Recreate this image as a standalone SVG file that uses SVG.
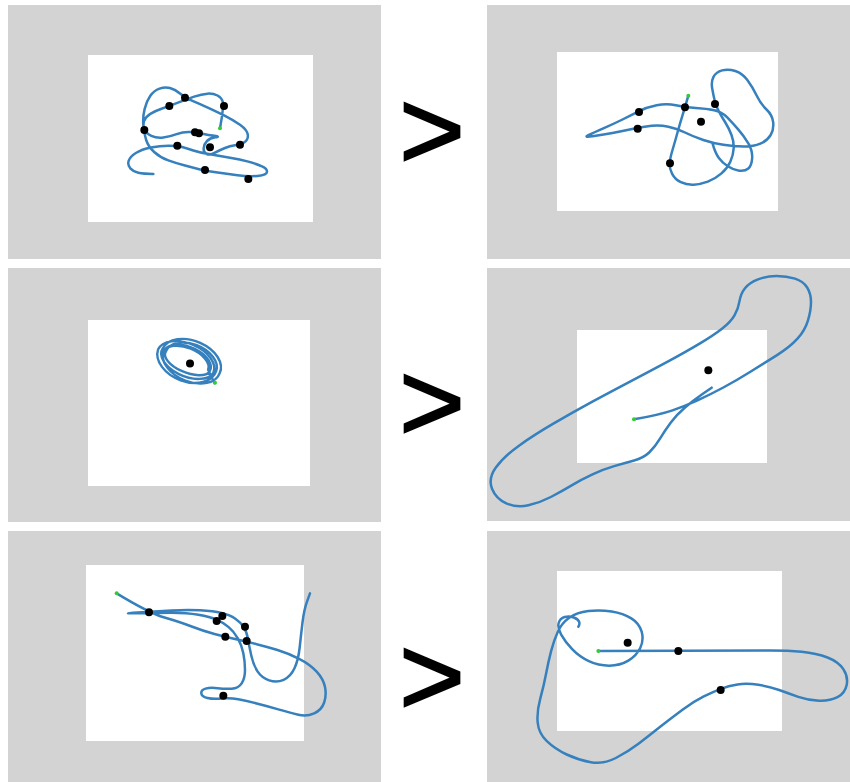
<svg xmlns="http://www.w3.org/2000/svg" width="850" height="782" viewBox="0 0 850 782">
<style>
.bg{fill:#d3d3d3}
.pl{fill:#ffffff}
.tr{fill:none;stroke:#3580bd;stroke-linecap:round;stroke-linejoin:round}
.s3{stroke-width:7.5}
.s1{stroke-width:2.4}
.dot{fill:#000}
.st{fill:#33cc33}
.gt{font-family:"Liberation Sans",Arial,sans-serif;font-size:113px;fill:#000;stroke:#000;stroke-width:1.8}
</style>
<rect width="850" height="782" fill="#ffffff"/>

<g id="panel1">
<rect class="bg" x="8" y="5" width="373" height="254"/>
<rect class="pl" x="88" y="55" width="225" height="167"/>
<g transform="scale(0.33333)">
<path class="tr s3" d="M660,385 Q672,318 668.5,305.5 Q665,293 652.5,286.5 Q640,280 622.5,281 Q605,282 582.5,290 Q560,298 534,308 Q508,318 486.5,325.5 Q465,333 451,341.5 Q437,350 432.5,362.5 Q428,375 433,387.5 Q438,400 454,407.5 Q470,415 490,412.5 Q510,410 530,402.5 Q550,395 570,396 Q590,397 607.5,401 Q625,405 643.5,407.5 Q662,410 646,412 Q630,414 621,423 Q612,432 611,445 Q610,458 620,462 Q630,466 645,458 Q660,450 675,444 Q690,438 705,436 Q720,434 732.5,427 Q745,420 743.5,405 Q742,390 721,375 Q700,360 675,347.5 Q650,335 625,323.5 Q600,312 577.5,302.5 Q555,293 540,280.5 Q525,268 510,264 Q495,260 478.5,266 Q462,272 451,287.5 Q440,303 434,326.5 Q428,350 430,375 Q432,400 438.5,420 Q445,440 462.5,456 Q480,472 505,481 Q530,490 555,496.5 Q580,503 597.5,507.5 Q615,512 647.5,517 Q680,522 712.5,526 Q745,530 772.5,528 Q800,526 801,516 Q802,506 786,499 Q770,492 745,485 Q720,478 690,473 Q660,468 630,463 Q600,458 580,451.5 Q560,445 546,441 Q532,437 506,437 Q480,437 452.5,442.5 Q425,448 407.5,459 Q390,470 386,482.5 Q382,495 391,505 Q400,515 415,518.5 Q430,522 460,522"/>
<circle class="dot" cx="555" cy="293" r="12"/>
<circle class="dot" cx="508" cy="318" r="12"/>
<circle class="dot" cx="672" cy="318" r="12"/>
<circle class="dot" cx="433" cy="390" r="12"/>
<circle class="dot" cx="585" cy="397" r="12"/>
<circle class="dot" cx="597" cy="400" r="12"/>
<circle class="dot" cx="532" cy="437" r="12"/>
<circle class="dot" cx="630" cy="442" r="12"/>
<circle class="dot" cx="720" cy="434" r="12"/>
<circle class="dot" cx="615" cy="510" r="12"/>
<circle class="dot" cx="745" cy="537" r="12"/>
<circle class="st" cx="660" cy="385" r="6"/>
</g>
</g>

<g id="panel2">
<rect class="bg" x="487" y="5" width="363" height="254"/>
<rect class="pl" x="557" y="52" width="221" height="159"/>
<g transform="translate(480,0) scale(0.33333)">
<path class="tr s3" d="M625,287 Q615,322 607.5,346 Q600,370 592.5,397.5 Q585,425 577.5,450 Q570,475 569,490 Q568,505 576.5,521.5 Q585,538 602.5,546.5 Q620,555 641,554 Q662,553 683.5,545 Q705,537 723.5,521 Q742,505 751,485 Q760,465 761,445 Q762,425 754.5,405 Q747,385 736,367.5 Q725,350 716.5,334 Q708,318 704,301.5 Q700,285 696.5,265 Q693,245 700.5,230.5 Q708,216 726.5,211 Q745,206 766,213 Q787,220 802,240 Q817,260 829.5,286 Q842,312 859.5,328.5 Q877,345 879.5,366.5 Q882,388 872,405 Q862,422 841,431 Q820,440 790,439.5 Q760,439 730,434.5 Q700,430 670,420 Q640,410 615,397.5 Q590,385 565,380 Q540,375 515,377.5 Q490,380 460,386.5 Q430,393 397.5,399 Q365,405 337.5,409 Q310,413 325,405.5 Q340,398 370,385 Q400,372 427.5,358.5 Q455,345 477.5,333.5 Q500,322 530,316 Q560,310 587.5,316 Q615,322 647.5,324 Q680,326 702.5,330.5 Q725,335 741,351.5 Q757,368 774.5,388 Q792,408 805,430 Q818,452 816.5,474.5 Q815,497 805,505.5 Q795,514 777.5,512 Q760,510 743.5,499 Q727,488 716,473 Q705,458 697,428"/>
<circle class="dot" cx="477" cy="336" r="12"/>
<circle class="dot" cx="473" cy="386" r="12"/>
<circle class="dot" cx="615" cy="322" r="12"/>
<circle class="dot" cx="705" cy="312" r="12"/>
<circle class="dot" cx="663" cy="365" r="12"/>
<circle class="dot" cx="570" cy="490" r="12"/>
<circle class="st" cx="625" cy="287" r="6"/>
</g>
</g>

<g id="panel3">
<rect class="bg" x="8" y="268" width="373" height="254"/>
<rect class="pl" x="88" y="320" width="222" height="166"/>
<g transform="translate(189,361) rotate(22)">
<path class="tr s1" d="M32,11 L21,1 A24 13 0 0 0 -27,1 A30 19 0 0 0 33,0 A31 20 0 0 0 -29,-2 A28 16 0 0 0 27,2 A30 18 0 0 0 -33,1 A31 21 0 0 0 29,-1 A27 17 0 0 0 -25,0 A24 11 0 0 0 23,2 A25 14 0 0 0 -27,-1"/>
</g>
<circle class="dot" cx="190" cy="363.5" r="4"/>
<circle class="st" cx="215" cy="382.7" r="2"/>
</g>

<g id="panel4">
<rect class="bg" x="487" y="268" width="363" height="253"/>
<rect class="pl" x="577" y="330" width="190" height="133"/>
<g transform="translate(480,262) scale(0.33333)">
<path class="tr s3" d="M462,472 Q540,458 577.5,445 Q615,432 652.5,415 Q690,398 730,376.5 Q770,355 810,330 Q850,305 890,280 Q930,255 952.5,230 Q975,205 984,175 Q993,145 993,120 Q993,95 981.5,76.5 Q970,58 945,50 Q920,42 890,42 Q860,42 834,52 Q808,62 795,78.5 Q782,95 778.5,117.5 Q775,140 763.5,160 Q752,180 726,200 Q700,220 660,244 Q620,268 570,295 Q520,322 460,353.5 Q400,385 340,417.5 Q280,450 220,485 Q160,520 115,552.5 Q70,585 47,617.5 Q24,650 36,680 Q48,710 79,724 Q110,738 145,730 Q180,722 212.5,705 Q245,688 275,670 Q305,652 337.5,637 Q370,622 402.5,612.5 Q435,603 462.5,595.5 Q490,588 507.5,571.5 Q525,555 540,530 Q555,505 572.5,481.5 Q590,458 615,436.5 Q640,415 667.5,396 L695,377"/>
<circle class="dot" cx="685" cy="325" r="12"/>
<circle class="st" cx="462" cy="472" r="6"/>
</g>
</g>

<g id="panel5">
<rect class="bg" x="8" y="531" width="373" height="251"/>
<rect class="pl" x="86" y="565" width="218" height="176"/>
<g transform="translate(0,525) scale(0.33333)">
<path class="tr s3" d="M350,205 Q447,264 493.5,277.5 Q540,291 575,304.5 Q610,318 643.5,327 Q677,336 708.5,343 Q740,350 770,357.5 Q800,365 832.5,375 Q865,385 897.5,401.5 Q930,418 950,440 Q970,462 975,486 Q980,510 972.5,532.5 Q965,555 942.5,565 Q920,575 895,569 Q870,563 835,553 Q800,543 770,535.5 Q740,528 715,523 Q690,518 665,520.5 Q640,523 622.5,519 Q605,515 604,505 Q603,495 616.5,491 Q630,487 652.5,489.5 Q675,492 695,491 Q715,490 725,475 Q735,460 735,435 Q735,410 730,385 Q725,360 713.5,340 Q702,320 686,306.5 Q670,293 650,284 Q630,275 595,269 Q560,263 515,263 Q470,263 412.5,264.5 Q355,266 412.5,262.5 Q470,259 515,256.5 Q560,254 600,256 Q640,258 665,264 Q690,270 706,281 Q722,292 731,306 Q740,320 744,342.5 Q748,365 754,392.5 Q760,420 772.5,439 Q785,458 807.5,466 Q830,474 851,464.5 Q872,455 883.5,430 Q895,405 899,367.5 Q903,330 907.5,292.5 Q912,255 921,230 L930,205"/>
<circle class="dot" cx="447" cy="262" r="12"/>
<circle class="dot" cx="650" cy="288" r="12"/>
<circle class="dot" cx="667" cy="273" r="12"/>
<circle class="dot" cx="676" cy="335" r="12"/>
<circle class="dot" cx="735" cy="305" r="12"/>
<circle class="dot" cx="740" cy="348" r="12"/>
<circle class="dot" cx="670" cy="512" r="12"/>
<circle class="st" cx="350" cy="205" r="6"/>
</g>
</g>

<g id="panel6">
<rect class="bg" x="487" y="531" width="363" height="251"/>
<rect class="pl" x="557" y="571" width="225" height="160"/>
<g transform="translate(480,525) scale(0.33333)">
<path class="tr s3" d="M355,378 L860,376.5 Q920,376 965,380.5 Q1010,385 1042.5,397.5 Q1075,410 1090,432.5 Q1105,455 1100,480 Q1095,505 1072.5,516.5 Q1050,528 1017.5,527 Q985,526 955,515.5 Q925,505 897.5,495 Q870,485 835,479.5 Q800,474 772.5,478.5 Q745,483 722.5,491.5 Q700,500 670,515 Q640,530 607.5,554 Q575,578 542.5,604 Q510,630 477.5,655 Q445,680 407.5,699 Q370,718 332.5,711.5 Q295,705 260,688.5 Q225,672 200.5,648.5 Q176,625 173,592.5 Q170,560 181,520 Q192,480 198.5,445 Q205,410 213.5,377.5 Q222,345 233.5,320 Q245,295 267.5,278.5 Q290,262 325,258 Q360,254 395,259.5 Q430,265 454,280 Q478,295 485,320 Q492,345 481,368.5 Q470,392 445,407 Q420,422 387.5,422 Q355,422 326.5,408.5 Q298,395 276.5,372.5 Q255,350 243.5,329 Q232,308 236,294 Q240,280 254,276 Q268,272 281.5,277.5 Q295,283 297.5,290.5 Q300,298 295,305"/>
<circle class="dot" cx="443" cy="353" r="12"/>
<circle class="dot" cx="595" cy="378" r="12"/>
<circle class="dot" cx="722" cy="495" r="12"/>
<circle class="st" cx="355" cy="378" r="6"/>
</g>
</g>

<g id="comparisons">
<text class="gt" x="399" y="169">&gt;</text>
<text class="gt" x="399" y="441">&gt;</text>
<text class="gt" x="399" y="715">&gt;</text>
</g>
</svg>
